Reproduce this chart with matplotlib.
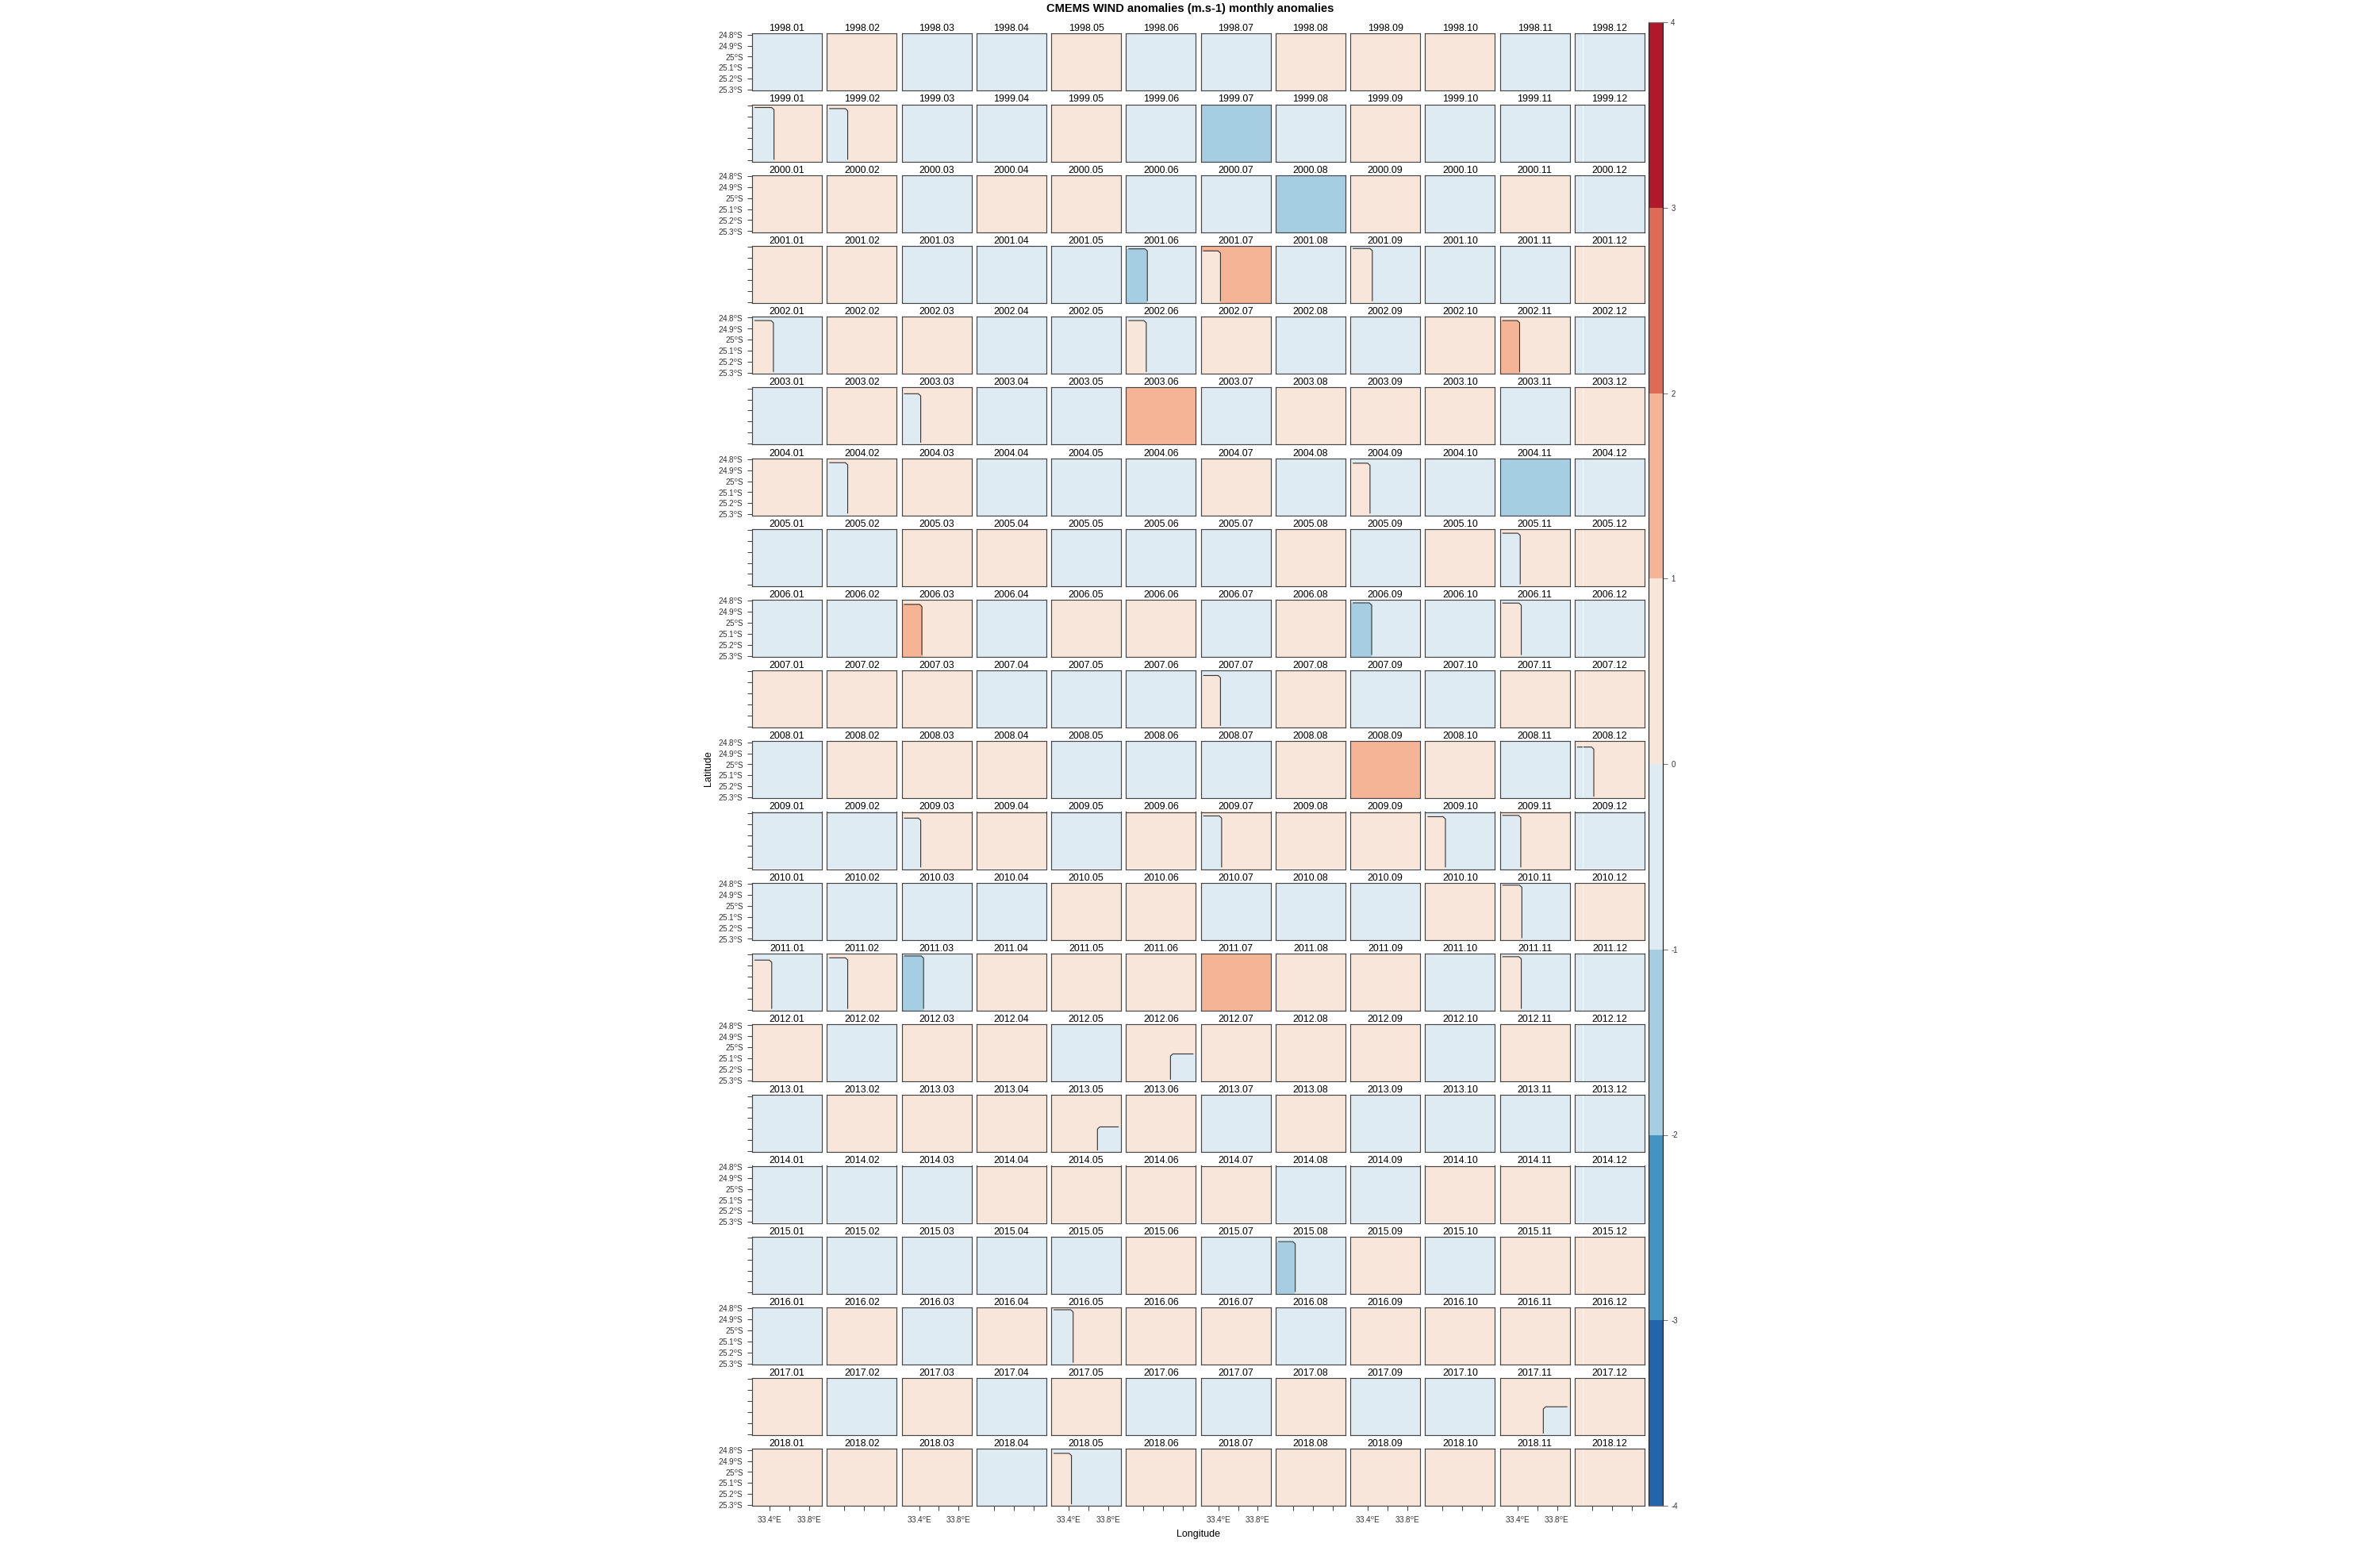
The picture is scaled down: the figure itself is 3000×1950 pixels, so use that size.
import matplotlib
matplotlib.use("Agg")
import matplotlib.pyplot as plt
from matplotlib.colors import BoundaryNorm, ListedColormap
import numpy as np

plt.rcParams['font.family'] = ['Liberation Sans', 'DejaVu Sans']
plt.rcParams['mathtext.fontset'] = 'custom'
plt.rcParams['mathtext.rm'] = 'Liberation Sans'

##	Colour classes (middle of each 1 m/s class)
D = -1.5
B = -0.5
P = 0.5
O = 1.5

years = list(range(1998, 2019))
months = ["01", "02", "03", "04", "05", "06", "07", "08", "09", "10", "11", "12"]

##	Main anomaly class of each monthly panel, one row for each year
panel_values = [
    [B, P, B, B, P, B, B, P, P, P, B, B],  # 1998
    [P, P, B, B, P, B, D, B, P, B, B, B],  # 1999
    [P, P, B, P, P, B, B, D, P, B, P, B],  # 2000
    [P, P, B, B, B, B, O, B, B, B, B, P],  # 2001
    [B, P, P, B, B, B, P, B, B, P, P, B],  # 2002
    [B, P, P, B, B, O, B, P, P, P, B, P],  # 2003
    [P, P, P, B, B, B, P, B, B, B, D, B],  # 2004
    [B, B, P, P, B, B, B, P, B, P, P, P],  # 2005
    [B, B, P, B, P, P, B, P, B, B, B, B],  # 2006
    [P, P, P, B, B, B, B, P, B, B, P, P],  # 2007
    [B, P, P, P, B, B, B, P, O, P, B, P],  # 2008
    [B, B, P, P, B, P, P, P, P, B, P, B],  # 2009
    [B, B, B, B, P, P, B, B, B, P, B, P],  # 2010
    [B, P, B, P, P, P, O, P, P, B, B, B],  # 2011
    [P, B, P, P, B, P, P, P, P, B, P, B],  # 2012
    [B, P, P, P, P, P, B, P, B, B, B, B],  # 2013
    [B, B, B, P, P, P, P, B, B, P, P, B],  # 2014
    [B, B, B, B, B, P, B, B, P, B, P, P],  # 2015
    [B, P, B, P, P, P, P, B, P, P, P, P],  # 2016
    [P, B, P, B, P, B, B, P, B, B, P, P],  # 2017
    [P, P, P, B, B, P, P, P, P, P, P, P],  # 2018
]

##	Panels with a second class in a corner: its value, its edge in lon/lat, and its side
inset_panels = ["1999.01", "1999.02", "2001.06", "2001.07", "2001.09", "2002.01", "2002.06", "2002.11",
                "2003.03", "2004.02", "2004.09", "2005.11", "2006.03", "2006.09", "2006.11", "2007.07",
                "2008.12", "2009.03", "2009.07", "2009.10", "2009.11", "2010.11", "2011.01", "2011.02",
                "2011.03", "2011.11", "2012.06", "2013.05", "2015.08", "2016.05", "2017.11", "2018.05"]
inset_values = [B, B, D, P, P, P, P, O,
                B, B, P, B, O, D, P, P,
                B, B, B, P, B, P, P, B,
                D, P, B, B, D, B, B, P]
inset_lons = [33.445, 33.434, 33.439, 33.422, 33.445, 33.439, 33.428, 33.422,
              33.416, 33.434, 33.422, 33.428, 33.428, 33.439, 33.439, 33.422,
              33.416, 33.416, 33.434, 33.428, 33.434, 33.445, 33.422, 33.434,
              33.445, 33.439, 33.673, 33.691, 33.422, 33.445, 33.662, 33.428]
inset_lats = [-24.819, -24.829, -24.817, -24.836, -24.814, -24.826, -24.826, -24.826,
              -24.848, -24.831, -24.836, -24.829, -24.833, -24.819, -24.821, -24.836,
              -24.843, -24.846, -24.826, -24.833, -24.821, -24.812, -24.850, -24.829,
              -24.812, -24.819, -25.060, -25.080, -24.836, -24.812, -25.051, -24.831]
inset_sides = ["W"] * 26 + ["E", "E"] + ["W", "W"] + ["E"] + ["W"]

lon_ticks = [33.4, 33.6, 33.8]
lon_labels = [r"33.4$^{\mathrm{o}}$E", "", r"33.8$^{\mathrm{o}}$E"]
lat_ticks = [-24.8, -24.9, -25.0, -25.1, -25.2, -25.3]
lat_labels = [r"24.8$^{\mathrm{o}}$S", r"24.9$^{\mathrm{o}}$S", r"25$^{\mathrm{o}}$S",
              r"25.1$^{\mathrm{o}}$S", r"25.2$^{\mathrm{o}}$S", r"25.3$^{\mathrm{o}}$S"]

levels = [-4, -3, -2, -1, 0, 1, 2, 3, 4]
colors = ["#2166AC", "#4393C3", "#A5CEE3", "#DEEBF2", "#F9E6DA", "#F5B495", "#DD6B55", "#B2182B"]

lon0, lon1 = 33.223, 33.93
lat0, lat1 = -25.31, -24.79

cmap = ListedColormap(colors)
norm = BoundaryNorm(levels, cmap.N)

W, H = 3000, 1950
fig = plt.figure(figsize=(W / 100, H / 100), dpi=100)


def px_axes(x0, y0, x1, y1):
    # pixel box of the reference (y going down) to a figure axes
    return fig.add_axes([x0 / W, 1 - y1 / H, (x1 - x0) / W, (y1 - y0) / H])


def inset_field(xs, ys, value, background, s, t, side):
    X, Y = np.meshgrid(xs, ys)
    inside = (X < s) if side == "W" else (X > s)
    return X, Y, np.where(inside & (Y < t), value, background)


def draw_inset(ax, value, background, s, t, side):
    # half a raster cell around the edge, this gives the cut corner of the contour
    h_lon, h_lat = 0.024, 0.02
    d_lon, d_lat = 0.024, 0.016
    fill_x = [lon0, s - h_lon, s + h_lon, lon1]
    fill_y = [lat0, t - h_lat, t + h_lat, lat1]
    X, Y, Z = inset_field(fill_x, fill_y, value, background, s, t, side)
    ax.contourf(X, Y, Z, levels=levels, cmap=cmap, norm=norm)
    if side == "W":
        line_x = [lon0 + d_lon, s - h_lon, s + h_lon]
    else:
        line_x = [s - h_lon, s + h_lon, lon1 - d_lon]
    line_y = [lat0 + d_lat, t - h_lat, t + h_lat]
    X, Y, Z = inset_field(line_x, line_y, value, background, s, t, side)
    ax.contour(X, Y, Z, levels=[(value + background) / 2], colors="#333333",
               linewidths=0.8, linestyles="solid")


for r, year in enumerate(years):
    top = 42.3 + r * 89.2
    for c, month in enumerate(months):
        left = 948 + c * 94.27
        ax = px_axes(left, top, left + 88, top + 72)
        label = "%d.%s" % (year, month)
        background = panel_values[r][c]
        ax.pcolormesh([lon0, lon1], [lat0, lat1], [[background]], cmap=cmap, norm=norm)
        if label in inset_panels:
            i = inset_panels.index(label)
            draw_inset(ax, inset_values[i], background, inset_lons[i], inset_lats[i], inset_sides[i])
        if c == 11:
            # thin white seam of the original raster in the last column
            ax.axvline(33.303, color="white", lw=0.7, alpha=0.8)
        ax.set_xlim(lon0, lon1)
        ax.set_ylim(lat0, lat1)
        ax.set_title(label, fontsize=8.9, pad=1.6, color="black")
        for sp in ax.spines.values():
            sp.set_color("#444444")
            sp.set_linewidth(0.85)

        ax.set_xticks(lon_ticks if r == len(years) - 1 else [])
        ax.set_yticks(lat_ticks if c == 0 else [])
        if r == len(years) - 1:
            ax.set_xticklabels(lon_labels if c % 2 == 0 else ["", "", ""])
        if c == 0:
            ax.set_yticklabels(lat_labels if r % 2 == 0 else [""] * 6)
        ax.tick_params(axis="x", length=4.4, width=0.75, color="#444444", pad=3.8,
                       labelsize=7.2, labelcolor="#333333")
        ax.tick_params(axis="y", length=4.2, width=0.75, color="#444444", pad=3.6,
                       labelsize=7.2, labelcolor="#333333")

##	Colour key on the right
cax = px_axes(2078, 28, 2096, 1898)
cax.pcolormesh([0, 1], levels, np.array(levels[:-1]).reshape(-1, 1) + 0.5, cmap=cmap, norm=norm)
cax.set_xticks([])
cax.yaxis.tick_right()
cax.set_yticks(levels)
cax.set_yticklabels([str(v) for v in levels])
cax.tick_params(axis="y", length=4.4, width=0.75, color="#777777", pad=3.0,
                labelsize=7.0, labelcolor="#333333")
cax.spines["left"].set_color("#222222")
cax.spines["right"].set_color("#222222")
cax.spines["top"].set_color("#777777")
cax.spines["bottom"].set_color("#777777")
for sp in cax.spines.values():
    sp.set_linewidth(0.85)

fig.text(1500 / W, 1 - 10.5 / H, "CMEMS WIND anomalies (m.s-1) monthly anomalies",
         ha="center", va="center", fontsize=10.5, fontweight="bold", color="black")
fig.text(1510 / W, 1 - 1934 / H, "Longitude", ha="center", va="center", fontsize=9)
fig.text(893 / W, 1 - 969 / H, "Latitude", ha="center", va="center", rotation=90, fontsize=9)

fig.savefig("out.png", dpi=100, facecolor="white")
plt.close()
